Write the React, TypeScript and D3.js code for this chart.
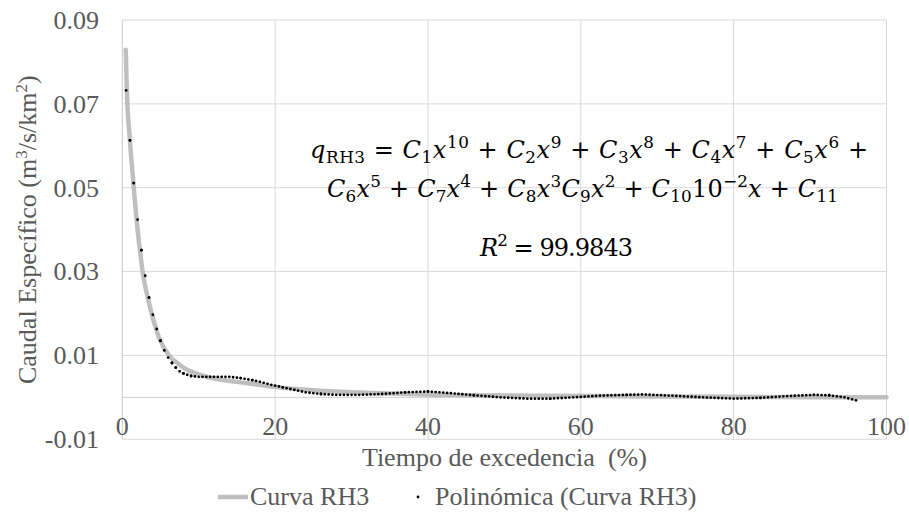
import React from "react";
import * as d3 from "d3";

// ---- data ----
const xTicks = [0, 20, 40, 60, 80, 100];
const yTicks = [-0.01, 0.01, 0.03, 0.05, 0.07, 0.09];

// Curva RH3 (gray curve)
const curveX = [0.45, 0.6, 1.0, 1.45, 2.0, 2.3, 2.75, 3.4, 4.05, 4.9, 6.2, 7.5, 8.0, 10.0, 12.0, 15.0, 20.0, 25.0, 30.0, 37.0, 45.0, 55.0, 70.0, 85.0, 100.0];
const curveY = [0.0829, 0.073, 0.0613, 0.0511, 0.04, 0.0352, 0.0289, 0.0233, 0.0186, 0.0138, 0.0098, 0.0078, 0.0071, 0.0055, 0.0045, 0.0037, 0.0025, 0.0017, 0.0012, 0.0008, 0.0005, 0.0004, 0.0002, 0.0001, 0.0];

// Polinómica (Curva RH3) trendline
const polyX = [0.5, 1.0, 1.5, 2.0, 2.5, 3.0, 3.5, 4.0, 4.5, 5.0, 5.5, 6.0, 6.5, 7.0, 7.5, 8.0, 9.0, 10.0, 12.0, 14.0, 15.5, 17.0, 18.0, 19.5, 21.0, 22.5, 24.0, 26.0, 28.0, 31.0, 34.0, 37.0, 40.0, 43.0, 46.0, 49.5, 53.0, 56.0, 59.0, 62.5, 66.0, 68.0, 72.0, 76.0, 80.0, 83.5, 87.0, 90.5, 92.5, 94.5, 96.0];
const polyY = [0.0732, 0.0613, 0.0511, 0.0424, 0.0351, 0.029, 0.0238, 0.0197, 0.0163, 0.0135, 0.0112, 0.0095, 0.0082, 0.0071, 0.0062, 0.0057, 0.0051, 0.0049, 0.0049, 0.0049, 0.0046, 0.0041, 0.0037, 0.003, 0.0024, 0.0018, 0.0012, 0.0008, 0.0006, 0.0006, 0.0008, 0.0012, 0.0014, 0.001, 0.0005, 0.0, -0.0003, -0.0003, 0.0, 0.0004, 0.0006, 0.0007, 0.0004, 0.0, -0.0003, -0.0001, 0.0003, 0.0006, 0.0005, 0.0, -0.0007];

const seriesNames = ["Curva RH3", "Polinómica (Curva RH3)"];
const xTitle = "Tiempo de excedencia  (%)";

type Tok = { t: string; i?: boolean; p?: "sub" | "sup" };
const eqLine1: Tok[] = [
  { t: "q", i: true }, { t: "RH3", p: "sub" }, { t: " = " },
  { t: "C", i: true }, { t: "1", p: "sub" }, { t: "x", i: true }, { t: "10", p: "sup" }, { t: " + " },
  { t: "C", i: true }, { t: "2", p: "sub" }, { t: "x", i: true }, { t: "9", p: "sup" }, { t: " + " },
  { t: "C", i: true }, { t: "3", p: "sub" }, { t: "x", i: true }, { t: "8", p: "sup" }, { t: " + " },
  { t: "C", i: true }, { t: "4", p: "sub" }, { t: "x", i: true }, { t: "7", p: "sup" }, { t: " + " },
  { t: "C", i: true }, { t: "5", p: "sub" }, { t: "x", i: true }, { t: "6", p: "sup" }, { t: " +" },
];
const eqLine2: Tok[] = [
  { t: "C", i: true }, { t: "6", p: "sub" }, { t: "x", i: true }, { t: "5", p: "sup" }, { t: " + " },
  { t: "C", i: true }, { t: "7", p: "sub" }, { t: "x", i: true }, { t: "4", p: "sup" }, { t: " + " },
  { t: "C", i: true }, { t: "8", p: "sub" }, { t: "x", i: true }, { t: "3", p: "sup" },
  { t: "C", i: true }, { t: "9", p: "sub" }, { t: "x", i: true }, { t: "2", p: "sup" }, { t: " + " },
  { t: "C", i: true }, { t: "10", p: "sub" }, { t: "10" }, { t: "−2", p: "sup" }, { t: "x", i: true }, { t: " + " },
  { t: "C", i: true }, { t: "11", p: "sub" },
];
const eqLine3: Tok[] = [
  { t: "R", i: true }, { t: "2", p: "sup" }, { t: " = 99.9843" },
];

// ---- layout ----
const W = 909, H = 527;
const L = 122.3, R = 886.5, T = 20, B = 439.3;
const FONT = "'Liberation Serif', 'Times New Roman', serif";
const MATHFONT = "'DejaVu Serif', 'Liberation Serif', serif";
const GRAY = "#595959";

function MathText({ tokens, x, y, size, len }: { tokens: Tok[]; x: number; y: number; size: number; len: number }) {
  const off: Record<string, number> = { base: 0, sub: 0.22 * size, sup: -0.42 * size };
  let cur = "base";
  const kids = tokens.map((tk, i) => {
    const p = tk.p || "base";
    const dy = off[p] - off[cur];
    cur = p;
    return (
      <tspan key={i} dy={dy} fontStyle={tk.i ? "italic" : "normal"} fontSize={p === "base" ? size : size * 0.7}>
        {tk.t}
      </tspan>
    );
  });
  return (
    <text x={x} y={y} fontFamily={MATHFONT} fill="#000" textLength={len} lengthAdjust="spacing" style={{ whiteSpace: "pre" }}>
      {kids}
    </text>
  );
}

export default function App() {
  const x = d3.scaleLinear().domain([0, 100]).range([L, R]);
  const y = d3.scaleLinear().domain([-0.01, 0.09]).range([B, T]);

  const curvePts: [number, number][] = curveX.map((v, i) => [v, curveY[i]]);
  const polyPts: [number, number][] = polyX.map((v, i) => [v, polyY[i]]);

  const curveLine = d3
    .line<[number, number]>()
    .x((d) => x(d[0]))
    .y((d) => y(d[1]))
    .curve(d3.curveMonotoneX);
  const segLine = d3
    .line<[number, number]>()
    .x((d) => x(d[0]))
    .y((d) => y(d[1]));

  const polySegs = polyPts.slice(0, -1).map((p0, i) => {
    const p1 = polyPts[i + 1];
    const n = Math.max(1, Math.round((p1[0] - p0[0]) / 0.5));
    const len = Math.hypot(x(p1[0]) - x(p0[0]), y(p1[1]) - y(p0[1]));
    return { d: segLine([p0, p1]) as string, dash: `0 ${len / n}` };
  });
  const last = polyPts[polyPts.length - 1];

  return (
    <svg width={W} height={H} style={{ position: "absolute", left: 0, top: 0, background: "#fff" }} fontFamily={FONT}>
      <rect width={W} height={H} fill="#fff" />
      {/* horizontal gridlines */}
      {yTicks.map((t) => (
        <line key={"h" + t} x1={L} x2={R} y1={y(t)} y2={y(t)} stroke="#d9d9d9" strokeWidth={1} />
      ))}
      {/* vertical gridlines */}
      {xTicks.slice(1).map((t) => (
        <line key={"v" + t} x1={x(t)} x2={x(t)} y1={T} y2={B} stroke="#d9d9d9" strokeWidth={1} />
      ))}
      {/* axes */}
      <line x1={L} x2={R} y1={y(0)} y2={y(0)} stroke="#d0d0d0" strokeWidth={1} />
      <line x1={L} x2={L} y1={T} y2={B} stroke="#c8c8c8" strokeWidth={1} />

      {/* y tick labels */}
      {yTicks.map((t) => (
        <text key={"yl" + t} x={99} y={y(t)} dy="0.34em" textAnchor="end" fontSize={26} fill={GRAY} fontFamily={FONT}>
          {t.toFixed(2)}
        </text>
      ))}
      {/* x tick labels */}
      {xTicks.map((t) => (
        <text key={"xl" + t} x={x(t)} y={435} textAnchor="middle" fontSize={26} fill={GRAY} fontFamily={FONT}>
          {t}
        </text>
      ))}

      {/* axis titles */}
      <text x={(L + R) / 2} y={466} textAnchor="middle" fontSize={26} fill={GRAY} style={{ whiteSpace: "pre" }}>
        {xTitle}
      </text>
      <text transform={`translate(36, ${(T + B) / 2}) rotate(-90)`} textAnchor="middle" fontSize={26} fill={GRAY}>
        Caudal Específico (m
        <tspan dy={-9} fontSize={17}>3</tspan>
        <tspan dy={9}>/s/km</tspan>
        <tspan dy={-9} fontSize={17}>2</tspan>
        <tspan dy={9}>)</tspan>
      </text>

      {/* series */}
      <path d={curveLine(curvePts) as string} fill="none" stroke="#bfbfbf" strokeWidth={4.5} strokeLinecap="round" strokeLinejoin="round" />
      {polySegs.map((s, i) => (
        <path key={"ps" + i} d={s.d} fill="none" stroke="#000" strokeWidth={2.8} strokeLinecap="round" strokeDasharray={s.dash} />
      ))}
      <circle cx={x(last[0])} cy={y(last[1])} r={1.4} fill="#000" />

      {/* equation */}
      <MathText tokens={eqLine1} x={310} y={158} size={24} len={558} />
      <MathText tokens={eqLine2} x={327} y={197} size={24} len={511} />
      <MathText tokens={eqLine3} x={480} y={256} size={24} len={153} />

      {/* legend */}
      <line x1={218} x2={248} y1={497} y2={497} stroke="#bfbfbf" strokeWidth={4.5} />
      <text x={250} y={505} fontSize={26} fill={GRAY}>{seriesNames[0]}</text>
      <circle cx={418} cy={497} r={1.4} fill="#000" />
      <text x={435} y={505} fontSize={26} fill={GRAY}>{seriesNames[1]}</text>
    </svg>
  );
}
